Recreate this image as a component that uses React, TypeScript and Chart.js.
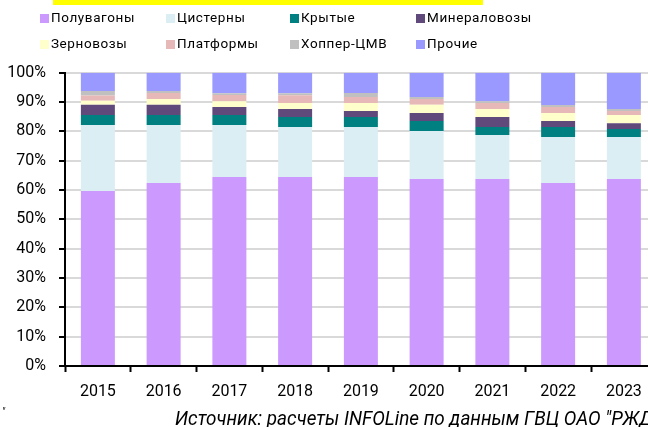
import React, { useEffect, useRef } from "react";
import { Chart, registerables } from "chart.js";

Chart.register(...registerables);

const years = ["2015", "2016", "2017", "2018", "2019", "2020", "2021", "2022", "2023"];
const poluvagony = [59.7, 62.4, 64.4, 64.4, 64.4, 63.75, 63.75, 62.4, 63.75];
const cisterny = [22.5, 19.8, 17.8, 17.1, 17.1, 16.4, 15.0, 15.7, 14.35];
const krytye = [3.4, 3.4, 3.4, 3.4, 3.4, 3.4, 2.75, 3.4, 2.7];
const mineralovozy = [3.5, 3.5, 2.7, 2.7, 2.0, 2.75, 3.4, 2.0, 2.0];
const zernovozy = [1.35, 1.9, 2.0, 2.1, 2.8, 2.75, 2.7, 2.75, 2.75];
const platformy = [1.8, 2.1, 2.1, 2.6, 2.0, 2.0, 2.1, 2.05, 1.35];
const hopper = [1.5, 0.65, 0.6, 0.7, 1.4, 0.7, 0.6, 0.7, 0.7];
const prochie = [6.25, 6.25, 7.0, 7.0, 6.9, 8.25, 9.7, 11.0, 12.4];
const yTicks = [0, 10, 20, 30, 40, 50, 60, 70, 80, 90, 100];

const series = [
  { label: "Полувагоны", data: poluvagony, color: "#CC99FF" },
  { label: "Цистерны", data: cisterny, color: "#DAEEF3" },
  { label: "Крытые", data: krytye, color: "#008080" },
  { label: "Минераловозы", data: mineralovozy, color: "#604A7B" },
  { label: "Зерновозы", data: zernovozy, color: "#FFFFCC" },
  { label: "Платформы", data: platformy, color: "#E6B9B8" },
  { label: "Хоппер-ЦМВ", data: hopper, color: "#C0C0C0" },
  { label: "Прочие", data: prochie, color: "#9999FF" },
];

const legendOrder = [
  ["Полувагоны", "Цистерны", "Крытые", "Минераловозы"],
  ["Зерновозы", "Платформы", "Хоппер-ЦМВ", "Прочие"],
];
const colX = [40, 166, 290, 416];
const rowTop = [13, 39];

const CW = 700;
const CH = 427;

export default function App() {
  const ref = useRef<HTMLCanvasElement | null>(null);
  useEffect(() => {
    if (!ref.current) return;
    const chart = new Chart(ref.current, {
      type: "bar",
      data: {
        labels: years,
        datasets: series.map((s) => ({
          label: s.label,
          data: s.data,
          backgroundColor: s.color,
          borderWidth: 0,
          barPercentage: 0.517,
          categoryPercentage: 1,
        })),
      },
      options: {
        responsive: false,
        animation: false,
        devicePixelRatio: 1,
        layout: { padding: { left: 0, top: 72.7, right: CW - 656.75, bottom: 0 } },
        plugins: { legend: { display: false }, tooltip: { enabled: false }, title: { display: false } },
        scales: {
          x: {
            stacked: true,
            afterFit: (s: any) => { s.height = CH - 366; },
            grid: {
              offset: true,
              drawOnChartArea: false,
              drawTicks: true,
              tickLength: 6,
              tickColor: "#000",
              tickWidth: 2,
            },
            border: { color: "#000", width: 2 },
            ticks: { color: "#000", font: { family: "Roboto", size: 16 }, padding: 10, maxRotation: 0 },
          },
          y: {
            stacked: true,
            min: 0,
            max: 100,
            afterFit: (s: any) => { s.width = 65; },
            afterBuildTicks: (s: any) => { s.ticks = yTicks.map((v) => ({ value: v })); },
            grid: {
              color: "#D9D9D9",
              lineWidth: 2,
              drawTicks: true,
              tickLength: 6,
              tickColor: "#000",
              tickWidth: 2,
            },
            border: { color: "#000", width: 2 },
            ticks: {
              color: "#000",
              font: { family: "Roboto", size: 16 },
              padding: 13,
              callback: (v: any) => v + "%",
            },
          },
        },
      },
    });
    return () => chart.destroy();
  }, []);

  const colorOf = (name: string) => series.find((s) => s.label === name)!.color;

  return (
    <div style={{ position: "fixed", left: 0, top: 0, width: 648, height: 427, overflow: "hidden", background: "#fff" }}>
      <canvas ref={ref} width={CW} height={CH} style={{ position: "absolute", left: 0, top: 0, width: CW, height: CH }} />
      <div style={{ position: "absolute", left: 53, top: 0, width: 430, height: 5, background: "#FFFF00" }} />
      {legendOrder.map((row, ri) =>
        row.map((name, ci) => (
          <React.Fragment key={name}>
            <div style={{ position: "absolute", left: colX[ci], top: rowTop[ri] + 0.5, width: 9, height: 9, background: colorOf(name) }} />
            <div style={{ position: "absolute", left: colX[ci] + 11, top: rowTop[ri] - 3, fontFamily: "Roboto", fontSize: 13.5, letterSpacing: "0.6px", lineHeight: "15px", color: "#000", whiteSpace: "nowrap" }}>{name}</div>
          </React.Fragment>
        ))
      )}
      <div style={{ position: "absolute", left: 175, top: 405.5, fontFamily: "Roboto", fontStyle: "italic", fontSize: 20, lineHeight: "24px", color: "#000", whiteSpace: "nowrap", transform: "scaleX(0.945)", transformOrigin: "left top" }}>
        Источник: расчеты INFOLine по данным ГВЦ ОАО "РЖД"
      </div>
      <div style={{ position: "absolute", left: 2, top: 406, fontFamily: "Roboto", fontStyle: "italic", fontSize: 10, lineHeight: "12px", color: "#000" }}>"</div>
    </div>
  );
}
